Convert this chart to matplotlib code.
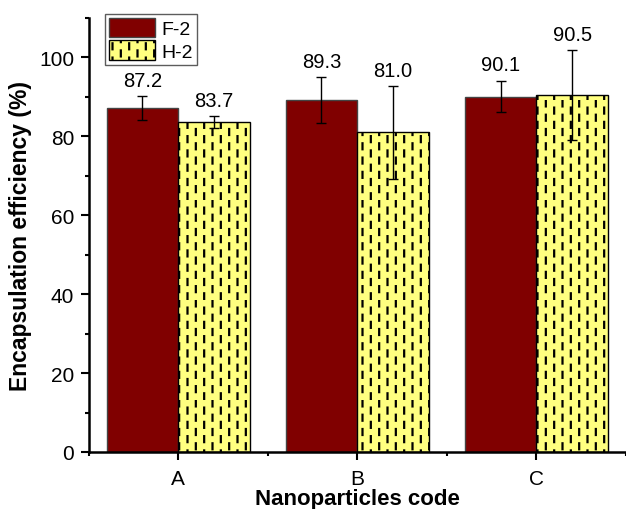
import warnings
warnings.filterwarnings("ignore")
import numpy as np
import matplotlib
matplotlib.use("Agg")
import matplotlib.pyplot as plt
import matplotlib.hatch as mhatch
from matplotlib.path import Path
from matplotlib.patches import Patch
from matplotlib.ticker import MultipleLocator, FixedLocator

# ---- data ----
categories = ["A", "B", "C"]
series_names = ["F-2", "H-2"]
f2_values = [87.2, 89.3, 90.1]
f2_errors = [3.0, 5.8, 4.0]
h2_values = [83.7, 81.0, 90.5]
h2_errors = [1.5, 11.8, 11.3]
y_ticks = [0, 20, 40, 60, 80, 100]

# ---- custom staggered vertical-dash hatch ----
class DashedVertical(mhatch.HatchPatternBase):
    ncols = 12
    nrows = 7
    frac = 0.42

    def __init__(self, hatch, density):
        self.on = hatch.count('!') > 0
        self.num_lines = self.ncols * self.nrows if self.on else 0
        self.num_vertices = self.num_lines * 2

    def set_vertices_and_codes(self, vertices, codes):
        k = 0
        dy = 1.0 / self.nrows
        for c in range(self.ncols):
            x = (c + 0.5) / self.ncols
            off = 0.0 if c % 2 == 0 else dy / 2
            for r in range(self.nrows):
                y0 = r * dy + off + dy * 0.05
                y1 = y0 + dy * self.frac
                if y1 > 1.0:
                    y0 -= 1.0
                    y1 -= 1.0
                    if y0 < 0:
                        y0 = 0.0
                vertices[2 * k] = (x, y0)
                vertices[2 * k + 1] = (x, y1)
                codes[2 * k] = Path.MOVETO
                codes[2 * k + 1] = Path.LINETO
                k += 1

mhatch._hatch_types.append(DashedVertical)
try:
    mhatch._validate_hatch_pattern = lambda h: None
except Exception:
    pass

plt.rcParams['font.family'] = ['Liberation Sans', 'DejaVu Sans']
plt.rcParams['hatch.linewidth'] = 1.6

fig = plt.figure(figsize=(6.26, 5.10), dpi=100)
ax = fig.add_axes([88.6 / 626, 57 / 510, 1 - 88.6 / 626, (453 - 19) / 510])

x = np.arange(1, len(categories) + 1)
w = 0.4
f2_color = "#800000"
h2_color = "#FFFF80"

ax.bar(x - w / 2, f2_values, w, color=f2_color, edgecolor="#444444", linewidth=1.0, zorder=2)
ax.bar(x + w / 2, h2_values, w, color=h2_color, edgecolor="black", linewidth=1.0,
       hatch='!', zorder=2)

ax.errorbar(x - w / 2, f2_values, yerr=f2_errors, fmt='none', ecolor='black',
            elinewidth=1.0, capsize=3.8, capthick=1.0, zorder=3)
ax.errorbar(x + w / 2, h2_values, yerr=h2_errors, fmt='none', ecolor='black',
            elinewidth=1.0, capsize=3.8, capthick=1.0, zorder=3)

for xi, v, e in zip(x - w / 2, f2_values, f2_errors):
    ax.annotate(f"{v:.1f}", (xi, v + e), xytext=(0, 4.5), textcoords='offset points',
                ha='center', va='bottom', fontsize=14.5)
for xi, v, e in zip(x + w / 2, h2_values, h2_errors):
    ax.annotate(f"{v:.1f}", (xi, v + e), xytext=(0, 4.5), textcoords='offset points',
                ha='center', va='bottom', fontsize=14.5)

ax.set_xlim(0.5, 3.5)
ax.set_ylim(0, 110)
ax.set_xticks(x)
ax.set_xticklabels(categories)
ax.xaxis.set_minor_locator(FixedLocator([0.5, 1.5, 2.5, 3.5]))
ax.set_yticks(y_ticks)
ax.yaxis.set_minor_locator(MultipleLocator(10))

for s in ['top', 'right']:
    ax.spines[s].set_visible(False)
for s in ['left', 'bottom']:
    ax.spines[s].set_linewidth(1.8)

ax.tick_params(which='major', direction='out', length=5.5, width=1.5, labelsize=15, pad=5)
ax.tick_params(axis='x', which='major', pad=6.5)
ax.tick_params(which='minor', direction='out', length=3, width=1.5)

ax.set_xlabel("Nanoparticles code", fontsize=16, fontweight='bold', labelpad=0)
ax.set_ylabel("Encapsulation efficiency (%)", fontsize=16.5, fontweight='bold', labelpad=5)

handles = [Patch(facecolor=f2_color, edgecolor="#444444", linewidth=1.0),
           Patch(facecolor=h2_color, edgecolor="black", linewidth=1.0, hatch='!')]
leg = fig.legend(handles, series_names, loc='upper left',
                 bbox_to_anchor=(105 / 626, 1 - 15 / 510), fontsize=14,
                 frameon=True, fancybox=False, edgecolor='#333333',
                 handlelength=2.35, handleheight=1.15, handletextpad=0.35,
                 borderpad=0.2, labelspacing=0.12, borderaxespad=0)
leg.get_frame().set_linewidth(1.0)

fig.savefig("out.png", dpi=100)
